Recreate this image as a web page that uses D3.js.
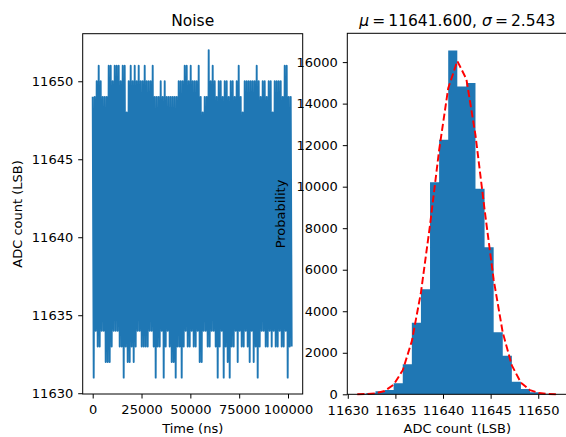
<!DOCTYPE html>
<html>
<head>
<meta charset="utf-8">
<script src="https://cdn.jsdelivr.net/npm/d3@7"></script>
<style>
body { margin: 0; background: #fff; }
svg { font-family: "DejaVu Sans", sans-serif; display: block; }
</style>
</head>
<body>
<div id="canvas"></div>
<script>
// Noise trace per 1024 ns segment:
// highest and lowest ADC value reached inside each segment
const segmentNs = 1024;
const traceHigh = [
  11649, 11649, 11650, 11651, 11650, 11649, 11649, 11649, 11651, 11651,
  11650, 11651, 11651, 11651, 11650, 11651, 11651, 11648, 11650, 11651,
  11650, 11651, 11650, 11651, 11650, 11650, 11651, 11650, 11650, 11650,
  11651, 11649, 11649, 11649, 11650, 11649, 11650, 11649, 11649, 11649,
  11649, 11649, 11649, 11650, 11650, 11650, 11651, 11651, 11650, 11651,
  11650, 11650, 11650, 11651, 11649, 11648, 11649, 11649, 11652, 11650,
  11651, 11650, 11649, 11650, 11650, 11649, 11650, 11650, 11649, 11650,
  11650, 11649, 11650, 11651, 11649, 11648, 11650, 11650, 11650, 11650,
  11650, 11650, 11651, 11650, 11649, 11650, 11650, 11649, 11650, 11650,
  11648, 11650, 11650, 11650, 11650, 11649, 11651, 11651, 11649, 11649
];
const traceLow = [
  11631, 11634, 11633, 11633, 11634, 11634, 11632, 11632, 11632, 11633,
  11634, 11634, 11634, 11633, 11633, 11631, 11633, 11632, 11632, 11633,
  11632, 11633, 11634, 11634, 11633, 11633, 11633, 11633, 11634, 11634,
  11633, 11631, 11633, 11633, 11634, 11631, 11633, 11634, 11633, 11632,
  11632, 11631, 11633, 11633, 11631, 11633, 11634, 11633, 11633, 11634,
  11633, 11633, 11634, 11632, 11632, 11634, 11634, 11633, 11633, 11634,
  11634, 11633, 11631, 11633, 11634, 11631, 11633, 11632, 11631, 11633,
  11633, 11634, 11632, 11634, 11633, 11633, 11634, 11633, 11632, 11634,
  11632, 11633, 11631, 11633, 11634, 11634, 11633, 11633, 11634, 11633,
  11634, 11633, 11633, 11634, 11633, 11633, 11634, 11631, 11633, 11633
];

// Histogram: 22 equal bins between the min and max ADC value
const binStart = 11631;
const binEnd = 11652;
const binCounts = [
  30, 64, 145, 207, 530, 1446, 3451, 5060, 10217, 12255, 16559,
  14824, 14988, 9894, 7084, 2988, 1860, 607, 255, 96, 30, 10
];
// Fitted gaussian, read at each bin edge
const fitCounts = [
  3, 12, 47, 157, 460, 1160, 2560, 4900, 8150, 11760, 14740, 16050,
  15180, 12480, 8900, 5520, 2970, 1390, 560, 200, 60, 16, 4
];
const fitMu = "11641.600";
const fitSigma = "2.543";

const timeTicks = [0, 25000, 50000, 75000, 100000];
const adcTicks = [11630, 11635, 11640, 11645, 11650];
const countTicks = [0, 2000, 4000, 6000, 8000, 10000, 12000, 14000, 16000];

const blue = "#1f77b4";
const width = 566, height = 437;

const svg = d3.select("#canvas")
  .append("svg")
  .attr("width", width)
  .attr("height", height);

function styleAxis(g) {
  g.select(".domain").remove();
  g.attr("font-family", "DejaVu Sans, sans-serif").attr("font-size", 13);
  g.selectAll(".tick line").attr("stroke", "#000").attr("stroke-width", 1);
  g.selectAll(".tick text").attr("fill", "#000");
}

// ---------- left: noise trace ----------
const lx = d3.scaleLinear().domain([-5120, 107520]).range([82.7, 302.7]);
const ly = d3.scaleLinear().domain([11629.95, 11653.05]).range([394, 33.7]);

const tracePoints = traceHigh.flatMap((h, i) => [
  [i * segmentNs, h],
  [i * segmentNs + segmentNs / 2, traceLow[i]]
]);

svg.append("path")
  .datum(tracePoints)
  .attr("fill", "none")
  .attr("stroke", blue)
  .attr("stroke-width", 1.9)
  .attr("stroke-linejoin", "round")
  .attr("d", d3.line().x(d => lx(d[0])).y(d => ly(d[1])));

svg.append("rect")
  .attr("x", 82.7).attr("y", 33.7)
  .attr("width", 220).attr("height", 394 - 33.7)
  .attr("fill", "none").attr("stroke", "#000").attr("stroke-width", 1);

svg.append("g")
  .attr("transform", "translate(0,394)")
  .call(d3.axisBottom(lx).tickValues(timeTicks).tickFormat(d3.format("d"))
    .tickSize(4.5).tickPadding(6.5))
  .call(styleAxis);

svg.append("g")
  .attr("transform", "translate(82.7,0)")
  .call(d3.axisLeft(ly).tickValues(adcTicks).tickFormat(d3.format("d"))
    .tickSize(4.5).tickPadding(5))
  .call(styleAxis);

svg.append("text")
  .attr("x", 192.7).attr("y", 26)
  .attr("text-anchor", "middle").attr("font-size", 15.5)
  .text("Noise");

svg.append("text")
  .attr("x", 192.7).attr("y", 432.5)
  .attr("text-anchor", "middle").attr("font-size", 13)
  .text("Time (ns)");

svg.append("text")
  .attr("transform", "translate(21.5,214) rotate(-90)")
  .attr("text-anchor", "middle").attr("font-size", 13)
  .text("ADC count (LSB)");

// ---------- right: histogram ----------
const rx = d3.scaleLinear().domain([11629.95, 11653.05]).range([347.3, 567.3]);
const ry = d3.scaleLinear().domain([0, 17387]).range([394.3, 33.3]);

const binWidth = (binEnd - binStart) / binCounts.length;
const binEdges = d3.range(binCounts.length + 1).map(k => binStart + k * binWidth);

// bars drawn as one stepped shape so no seams show between neighbours
const histSteps = binEdges.map((e, i) => [e, binCounts[Math.min(i, binCounts.length - 1)]]);
svg.append("path")
  .datum(histSteps)
  .attr("fill", blue)
  .attr("d", d3.area()
    .curve(d3.curveStepAfter)
    .x(d => rx(d[0]))
    .y0(ry(0))
    .y1(d => ry(d[1])));

svg.append("path")
  .datum(fitCounts)
  .attr("fill", "none")
  .attr("stroke", "#ff0000")
  .attr("stroke-width", 1.94)
  .attr("stroke-dasharray", "7.2,3.1")
  .attr("d", d3.line().x((d, i) => rx(binEdges[i])).y(d => ry(d)));

svg.append("rect")
  .attr("x", 347.3).attr("y", 33.3)
  .attr("width", 220).attr("height", 394.3 - 33.3)
  .attr("fill", "none").attr("stroke", "#000").attr("stroke-width", 1);

svg.append("g")
  .attr("transform", "translate(0,394.3)")
  .call(d3.axisBottom(rx).tickValues(adcTicks).tickFormat(d3.format("d"))
    .tickSize(4.5).tickPadding(6.5))
  .call(styleAxis);

svg.append("g")
  .attr("transform", "translate(347.3,0)")
  .call(d3.axisLeft(ry).tickValues(countTicks).tickFormat(d3.format("d"))
    .tickSize(4.5).tickPadding(5))
  .call(styleAxis);

const title = svg.append("text")
  .attr("x", 457.3).attr("y", 26)
  .attr("text-anchor", "middle").attr("font-size", 15.5);
title.append("tspan").attr("font-style", "italic").text("\u03bc");
title.append("tspan").text("\u2009=\u2009" + fitMu + ", ");
title.append("tspan").attr("font-style", "italic").text("\u03c3");
title.append("tspan").text("\u2009=\u2009" + fitSigma);

svg.append("text")
  .attr("x", 457.3).attr("y", 432.5)
  .attr("text-anchor", "middle").attr("font-size", 13)
  .text("ADC count (LSB)");

svg.append("text")
  .attr("transform", "translate(285,214) rotate(-90)")
  .attr("text-anchor", "middle").attr("font-size", 13)
  .text("Probability");
</script>
</body>
</html>
